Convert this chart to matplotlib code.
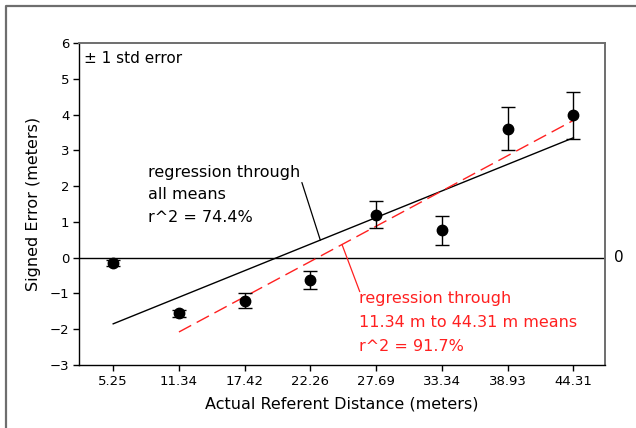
import numpy as np
import matplotlib
matplotlib.use('Agg')
import matplotlib.pyplot as plt
from matplotlib.lines import Line2D

# distancias (etiquetas del eje x) y medias del error con signo
distancias = ['5.25', '11.34', '17.42', '22.26', '27.69', '33.34', '38.93', '44.31']
medias = [-0.15, -1.56, -1.20, -0.62, 1.20, 0.76, 3.60, 3.98]
err_std = [0.09, 0.10, 0.20, 0.25, 0.38, 0.41, 0.60, 0.65]

x = np.arange(len(distancias))
y = np.array(medias)

fig = plt.figure(figsize=(6.36, 4.28), dpi=100)
ax = fig.add_axes([79/636, 63/428, 526/636, 322/428])

# marco exterior
gris = '#6e6e6e'
fig.add_artist(Line2D([5.5/636, 5.5/636, 1.0], [0.0, 1 - 5.5/428, 1 - 5.5/428],
                      transform=fig.transFigure, color=gris, lw=1.6))

# linea del cero
ax.axhline(0, color='black', lw=1, zorder=1)

# regresion con todas las medias
p_all = np.polyfit(x, y, 1)
ax.plot(x[[0, -1]], np.polyval(p_all, x[[0, -1]]), color='black', lw=1, zorder=2)

# regresion desde 11.34 m
x2 = x[1:]
p_sub = np.polyfit(x2, y[1:], 1)
ax.plot(x2[[0, -1]], np.polyval(p_sub, x2[[0, -1]]), color='#ff2020', lw=1,
        dashes=(10, 4.5), zorder=2)

# medias con error estandar
ax.errorbar(x, y, yerr=err_std, fmt='o', color='black', ms=7.5, capsize=5,
            elinewidth=1, capthick=1, zorder=3)

ax.set_xlim(-0.52, 7.48)
ax.set_ylim(-3, 6)
ax.set_xticks(x)
ax.set_xticklabels(distancias)
ax.set_yticks(range(-3, 7))
ax.tick_params(direction='out', length=4, width=1, labelsize=9.5, pad=3)

for s in ['left', 'bottom']:
    ax.spines[s].set_color('black')
    ax.spines[s].set_linewidth(1)
for s in ['top', 'right']:
    ax.spines[s].set_color(gris)
    ax.spines[s].set_linewidth(1.4)

ax.set_xlabel('Actual Referent Distance (meters)', fontsize=11.5, labelpad=6)
ax.set_ylabel('Signed Error (meters)', fontsize=11.5, labelpad=6)

ax.text(0.01, 0.975, '± 1 std error', transform=ax.transAxes, fontsize=11,
        ha='left', va='top')
ax.text(7.62, 0, '0', fontsize=11, ha='left', va='center', clip_on=False)

# anotaciones
ax.text(0.53, 2.6, 'regression through\nall means\nr^2 = 74.4%', fontsize=11.5,
        ha='left', va='top', linespacing=1.65)
xa = 3.15
ax.annotate('', xy=(xa, np.polyval(p_all, xa)), xytext=(2.87, 2.1),
            arrowprops=dict(arrowstyle='-', color='black', lw=0.9,
                            shrinkA=0, shrinkB=0))

ax.text(3.74, -0.93, 'regression through\n11.34 m to 44.31 m means\nr^2 = 91.7%',
        fontsize=11.5, color='#ff2020', ha='left', va='top', linespacing=1.75)
xr = 3.48
ax.annotate('', xy=(xr, np.polyval(p_sub, xr)), xytext=(3.75, -0.95),
            arrowprops=dict(arrowstyle='-', color='#ff2020', lw=0.9,
                            shrinkA=0, shrinkB=0))

fig.savefig('out.png', dpi=100)
